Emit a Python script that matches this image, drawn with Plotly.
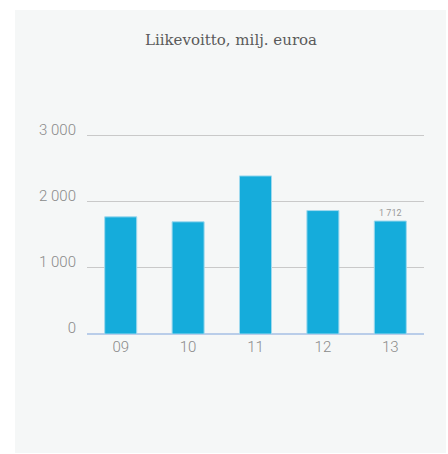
import plotly.graph_objects as go

categories = ["09", "10", "11", "12", "13"]
values = [1775, 1700, 2395, 1870, 1712]
bar_labels = ["", "", "", "", "1 712"]
tick_vals = [0, 1000, 2000, 3000]
tick_text = ["0", "1 000", "2 000", "3 000"]

W, H = 448, 454
L, R, T, B = 87, 24, 134, 120
pw, ph = W - L - R, H - T - B

def px2paper_x(px):
    return (px - L) / pw

def px2paper_y(py):
    return (H - B - py) / ph

fig = go.Figure()
fig.add_trace(go.Bar(
    x=categories, y=values,
    marker=dict(color="#15acdb", line=dict(color="#9fd9ee", width=1)),
    width=0.475,
    text=bar_labels, textposition="outside", cliponaxis=False,
    textfont=dict(family="Roboto", size=9, color="#9a9a9a"),
    hoverinfo="skip",
))

fig.add_shape(type="rect", xref="paper", yref="paper",
              x0=px2paper_x(15), x1=px2paper_x(446),
              y0=px2paper_y(453), y1=px2paper_y(10),
              fillcolor="#f5f7f7", line=dict(width=0), layer="below")

fig.update_layout(
    width=W, height=H,
    margin=dict(l=L, r=R, t=T, b=B, pad=0),
    paper_bgcolor="white",
    plot_bgcolor="rgba(0,0,0,0)",
    showlegend=False,
    title=dict(text="Liikevoitto, milj. euroa", x=231 / W,
               xanchor="center", xref="container", y=1 - 40 / H, yref="container",
               yanchor="middle",
               font=dict(family="DejaVu Serif", size=15, color="#5a5a5a")),
    xaxis=dict(showgrid=False, showline=False, zeroline=False, ticks="",
               tickfont=dict(family="Roboto", size=15, color="#8a8a8a", weight=300),
               ticklabelstandoff=2),
    yaxis=dict(range=[0, 3030], tickvals=tick_vals, ticktext=tick_text,
               showgrid=True, gridcolor="#c9c9c9", gridwidth=1,
               zeroline=True, zerolinecolor="#b9cde9", zerolinewidth=2,
               showline=False, ticks="",
               tickfont=dict(family="Roboto", size=15, color="#8a8a8a", weight=300),
               ticklabelstandoff=10, ticklabelshift=-6),
    bargap=0.5,
)

fig.write_html("out.html")
